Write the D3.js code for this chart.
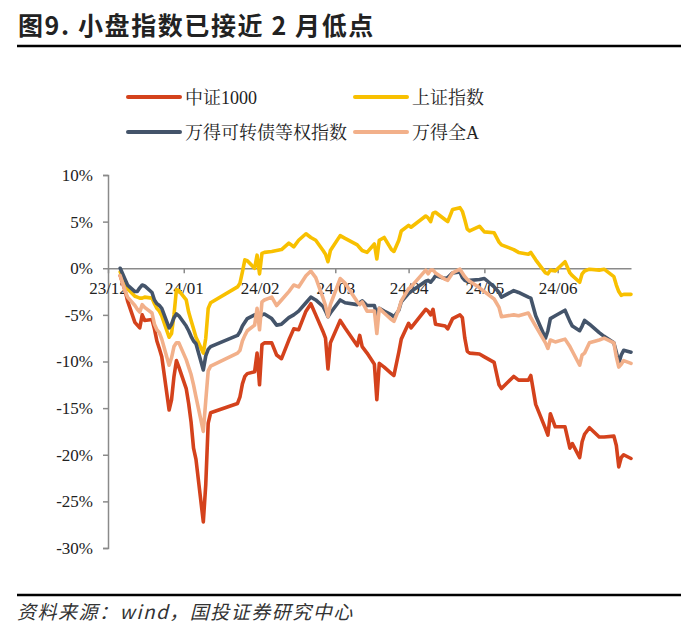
<!DOCTYPE html>
<html><head><meta charset="utf-8">
<script src="https://cdn.jsdelivr.net/npm/d3@7"></script>
<style>
html,body{margin:0;padding:0;background:#fff;}
svg{display:block;}
</style></head>
<body>
<script>
// ---------------- data ----------------
const dates = [
"2024-01-02","2024-01-04","2024-01-05","2024-01-08","2024-01-09","2024-01-10","2024-01-11","2024-01-12","2024-01-15","2024-01-16","2024-01-17","2024-01-18","2024-01-19","2024-01-22","2024-01-23","2024-01-24","2024-01-25","2024-01-26","2024-01-29","2024-01-30","2024-01-31",
"2024-02-01","2024-02-02","2024-02-05","2024-02-06","2024-02-07","2024-02-08","2024-02-19","2024-02-20","2024-02-21","2024-02-22","2024-02-23","2024-02-26","2024-02-27","2024-02-28","2024-02-29",
"2024-03-01","2024-03-04","2024-03-06","2024-03-08","2024-03-11","2024-03-13","2024-03-15","2024-03-18","2024-03-20","2024-03-22","2024-03-25","2024-03-26","2024-03-27","2024-03-28",
"2024-04-01","2024-04-03","2024-04-08","2024-04-09","2024-04-10","2024-04-12","2024-04-15","2024-04-16","2024-04-17","2024-04-19","2024-04-22","2024-04-23","2024-04-25","2024-04-26","2024-04-29","2024-04-30",
"2024-05-06","2024-05-07","2024-05-08","2024-05-09","2024-05-10","2024-05-14","2024-05-15","2024-05-17","2024-05-20","2024-05-21","2024-05-22","2024-05-23","2024-05-24","2024-05-28","2024-05-30",
"2024-06-03","2024-06-05","2024-06-06","2024-06-11","2024-06-13","2024-06-17","2024-06-18","2024-06-20","2024-06-24","2024-06-25","2024-06-26","2024-06-28",
"2024-07-02","2024-07-04","2024-07-05","2024-07-08","2024-07-09","2024-07-10","2024-07-12","2024-07-16","2024-07-18","2024-07-22","2024-07-23","2024-07-24","2024-07-25","2024-07-26","2024-07-29"
];
// 中证1000 (%)
const csi1000 = [
-0.8,-2.4,-3.5,-5.8,-6.1,-6.4,-5.0,-5.6,-5.5,-6.5,-7.8,-8.6,-9.5,-15.2,-14.1,-11.6,-9.9,-10.6,-12.9,-14.5,-16.5,
-19.3,-20.5,-27.2,-23.2,-16.6,-15.5,-14.5,-13.8,-12.4,-11.6,-11.3,-11.1,-9.1,-12.5,-8.2,
-8.0,-8.0,-9.3,-9.7,-7.7,-6.5,-6.6,-4.6,-3.8,-5.0,-6.8,-7.5,-10.8,-8.0,
-5.6,-6.4,-8.3,-7.2,-8.4,-9.1,-10.3,-14.1,-10.2,-10.6,-11.3,-11.5,-9.0,-7.6,-5.9,-6.4,
-4.4,-4.6,-5.0,-4.4,-6.0,-6.2,-6.5,-5.4,-5.0,-5.3,-7.5,-8.9,-9.1,-9.2,-9.5,
-10.1,-12.5,-12.9,-11.6,-12.0,-12.0,-11.5,-14.6,-17.2,-17.9,-15.6,-17.0,
-17.0,-19.3,-18.8,-20.3,-18.6,-17.8,-17.1,-18.1,-18.1,-18.0,-19.0,-21.3,-20.3,-20.0,-20.4
];
// 上证指数 (%)
const shIndex = [
-0.4,-1.6,-2.2,-3.0,-3.1,-3.2,-3.2,-3.1,-3.2,-3.8,-4.3,-4.6,-5.1,-7.4,-7.0,-5.0,-2.3,-2.4,-3.4,-4.7,-5.6,
-6.5,-7.4,-9.1,-7.5,-4.3,-3.7,-2.0,-1.6,-0.4,0.9,0.8,0.0,1.4,-0.6,1.6,
1.7,1.8,1.9,2.0,2.7,2.3,3.0,3.7,3.3,3.0,1.9,1.5,0.7,1.9,
3.5,3.2,2.5,2.2,1.9,1.7,2.6,1.0,3.0,3.3,2.0,1.8,3.0,4.0,4.6,4.4,
5.6,5.4,5.0,5.9,6.0,5.2,5.0,6.3,6.5,6.1,5.2,4.2,4.0,4.5,3.9,
3.8,2.8,2.5,2.0,1.7,1.5,1.7,0.9,-0.5,-0.6,-0.2,-0.3,
0.7,-0.5,-0.8,-1.5,-0.6,-0.3,-0.1,-0.2,-0.1,-0.9,-1.8,-2.5,-2.9,-2.8,-2.8
];
// 万得可转债等权指数 (%)
const cbIndex = [
0.0,-1.2,-1.8,-2.5,-2.5,-2.1,-1.8,-1.9,-2.6,-3.4,-3.8,-4.0,-4.3,-6.4,-6.0,-5.3,-4.9,-5.1,-6.2,-6.7,-7.3,
-7.8,-8.1,-10.9,-9.4,-8.7,-8.4,-7.2,-6.8,-6.2,-5.8,-5.4,-5.0,-4.9,-5.3,-5.0,
-4.9,-5.4,-6.1,-6.0,-5.3,-5.0,-4.6,-3.7,-3.1,-3.4,-4.1,-4.6,-5.2,-4.8,
-3.4,-3.7,-3.9,-3.7,-3.5,-4.0,-4.0,-5.0,-4.3,-4.6,-5.0,-5.2,-4.5,-3.6,-2.7,-2.5,
-1.4,-1.3,-1.5,-1.2,-0.8,-1.1,-1.0,-0.5,-0.4,-1.0,-1.3,-1.4,-1.3,-1.2,-1.1,
-2.0,-2.6,-3.1,-2.4,-2.6,-3.1,-3.2,-5.1,-7.5,-6.7,-5.4,-5.1,
-4.5,-5.7,-6.2,-6.7,-6.2,-5.6,-6.0,-6.9,-7.3,-8.0,-9.0,-10.2,-9.3,-8.8,-9.0
];
// 万得全A (%)
const windA = [
-0.8,-2.4,-3.1,-4.0,-4.4,-4.7,-3.9,-4.2,-4.8,-6.0,-6.6,-6.9,-7.6,-10.4,-9.6,-8.4,-8.0,-8.0,-9.8,-10.6,-11.4,
-12.5,-13.8,-17.5,-14.2,-11.0,-10.5,-9.1,-8.8,-7.8,-7.2,-6.7,-6.1,-4.3,-6.6,-3.6,
-3.4,-3.1,-4.0,-3.4,-2.5,-1.8,-2.0,-0.8,-0.3,-1.0,-3.2,-4.0,-5.2,-3.9,
-1.1,-1.6,-3.6,-3.9,-3.6,-4.6,-4.6,-7.0,-4.3,-4.8,-5.5,-5.7,-4.4,-3.5,-2.2,-2.0,
-0.2,-0.6,-0.2,-0.2,-0.5,-1.2,-1.3,-0.5,-0.1,-0.5,-0.9,-1.2,-1.4,-2.1,-2.5,
-3.3,-4.2,-5.2,-5.0,-5.1,-4.8,-5.3,-6.2,-8.0,-8.6,-7.7,-7.9,
-7.6,-8.4,-8.9,-10.4,-9.3,-9.1,-8.0,-7.7,-7.5,-8.0,-9.5,-10.6,-10.3,-9.9,-10.2
];
const seriesNames = ["中证1000","上证指数","万得可转债等权指数","万得全A"];
const seriesColors = ["#D4421C","#F8C000","#44546A","#F2B08A"];
const yTicks = [10,5,0,-5,-10,-15,-20,-25,-30];
const xTickDates = ["2023-12-28","2024-01-28","2024-02-28","2024-03-30","2024-04-29","2024-05-30","2024-06-29"];
const xDomain = ["2023-12-28","2024-07-29"];
const titleText = "图9. 小盘指数已接近 2 月低点";
const sourceText = "资料来源：wind，国投证券研究中心";

// ---------------- drawing ----------------
const W = 700, H = 638;
const parse = d3.timeParse("%Y-%m-%d");
const svg = d3.select("body").append("svg").attr("width", W).attr("height", H);
svg.append("rect").attr("width", W).attr("height", H).attr("fill", "#fff");

const plot = {left: 108, right: 631, top: 175, bottom: 548};
const x = d3.scaleTime().domain(xDomain.map(parse)).range([plot.left, plot.right]);
const y = d3.scaleLinear().domain([-30, 10]).range([plot.bottom, plot.top]);

const serif = "'Liberation Serif','Times New Roman','Noto Serif CJK SC','Noto Sans CJK SC',serif";
const cjk = "'Noto Sans CJK SC','Noto Sans',sans-serif";

// title
svg.append("text").attr("x", 18).attr("y", 35)
  .attr("font-family", cjk).attr("font-size", 25).attr("font-weight", "bold")
  .attr("letter-spacing", "1.6px").attr("fill", "#222").text(titleText);
svg.append("line").attr("x1", 17).attr("x2", 681).attr("y1", 46).attr("y2", 46)
  .attr("stroke", "#000").attr("stroke-width", 2.5);

// legend
const legendPos = [[128, 97], [355, 97], [128, 132], [355, 132]];
seriesNames.forEach((n, i) => {
  const [lx, ly] = legendPos[i];
  svg.append("line").attr("x1", lx).attr("x2", lx + 52).attr("y1", ly).attr("y2", ly)
    .attr("stroke", seriesColors[i]).attr("stroke-width", 4).attr("stroke-linecap", "round");
  svg.append("text").attr("x", lx + 57).attr("y", ly + 6.5)
    .attr("font-family", serif).attr("font-size", 18).attr("fill", "#222").text(n);
});

// y axis
const yAxis = d3.axisLeft(y).tickValues(yTicks).tickSize(5).tickPadding(10)
  .tickFormat(d => d + "%");
const gy = svg.append("g").attr("transform", `translate(${plot.left},0)`).call(yAxis);
gy.select(".domain").attr("stroke", "#8a8a8a").attr("stroke-width", 1.5);
gy.selectAll(".tick line").attr("stroke", "#8a8a8a").attr("stroke-width", 1.5);
gy.selectAll(".tick text").attr("font-family", serif).attr("font-size", 17).attr("fill", "#222");

// x axis at 0%
const xAxis = d3.axisBottom(x).tickValues(xTickDates.map(parse)).tickSize(5).tickPadding(9)
  .tickSizeOuter(0).tickFormat(d3.timeFormat("%y/%m"));
const gx = svg.append("g").attr("transform", `translate(0,${y(0)})`).call(xAxis);
gx.select(".domain").attr("stroke", "#8a8a8a").attr("stroke-width", 1.5);
gx.selectAll(".tick line").attr("stroke", "#8a8a8a").attr("stroke-width", 1.5);
gx.selectAll(".tick text").attr("font-family", serif).attr("font-size", 17).attr("fill", "#222");

// lines
const allSeries = [csi1000, shIndex, cbIndex, windA];
const line = d3.line().x(d => x(d[0])).y(d => y(d[1])).curve(d3.curveLinear);
allSeries.forEach((vals, i) => {
  const pts = dates.map((d, j) => [parse(d), vals[j]]);
  svg.append("path").datum(pts).attr("d", line)
    .attr("fill", "none").attr("stroke", seriesColors[i]).attr("stroke-width", 3.6)
    .attr("stroke-linejoin", "round").attr("stroke-linecap", "round");
});

// footer
svg.append("line").attr("x1", 17).attr("x2", 681).attr("y1", 595).attr("y2", 595)
  .attr("stroke", "#000").attr("stroke-width", 2.5);
svg.append("text").attr("x", 17).attr("y", 619)
  .attr("font-family", cjk).attr("font-size", 19).attr("font-style", "italic")
  .attr("letter-spacing", "1.5px").attr("fill", "#333").text(sourceText);
</script>
</body></html>
